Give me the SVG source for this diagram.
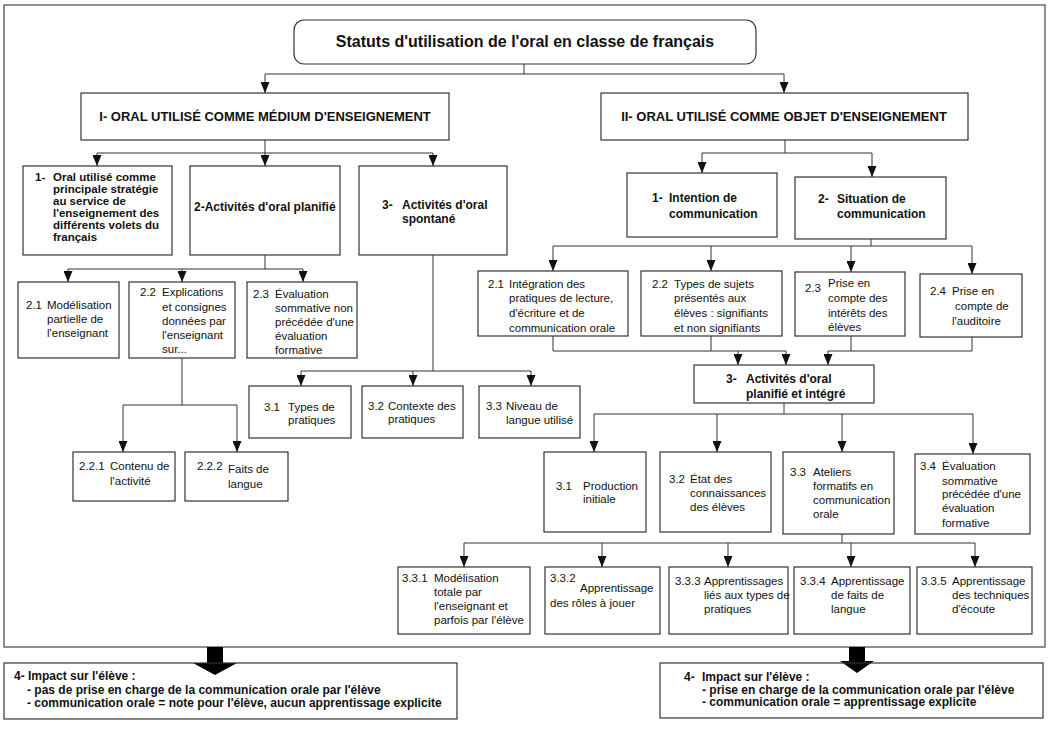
<svg xmlns="http://www.w3.org/2000/svg" width="1051" height="731" viewBox="0 0 1051 731">
<defs>
<style>
.bx{fill:#fff;stroke:#333;stroke-width:1.2}
.fr{fill:none;stroke:#444;stroke-width:1.2}
.cn{fill:none;stroke:#333;stroke-width:1}
text{font-family:"Liberation Sans",Arial,sans-serif;font-size:11.5px;fill:#111}
.b{font-weight:bold;font-size:12px}
.s{font-weight:bold;font-size:11.5px}
.h{font-weight:bold;font-size:13px}
.ti{font-weight:bold;font-size:16px}
</style>
<marker id="ar" markerUnits="userSpaceOnUse" markerWidth="9" markerHeight="11" refX="4.5" refY="11" orient="0">
<path d="M0,0 L9,0 L4.5,11 z" fill="#111"/>
</marker>
</defs>
<rect x="0" y="0" width="1051" height="731" fill="#fff"/>
<rect class="fr" x="4" y="5" width="1041" height="642"/>

<g id="connectors">
<path class="cn" d="M524,64 V74 H265 V93" marker-end="url(#ar)"/>
<path class="cn" d="M524,74 H784 V93" marker-end="url(#ar)"/>
<path class="cn" d="M265,140 V153 H97 V166" marker-end="url(#ar)"/>
<path class="cn" d="M265,153 V166" marker-end="url(#ar)"/>
<path class="cn" d="M265,153 H433 V166" marker-end="url(#ar)"/>
<path class="cn" d="M265,255 V269 H68 V282" marker-end="url(#ar)"/>
<path class="cn" d="M265,269 H303 V282" marker-end="url(#ar)"/>
<path class="cn" d="M182,269 V282" marker-end="url(#ar)"/>
<path class="cn" d="M182,358 V405 H123 V452" marker-end="url(#ar)"/>
<path class="cn" d="M182,405 H237 V452" marker-end="url(#ar)"/>
<path class="cn" d="M433,255 V371 H301 V386" marker-end="url(#ar)"/>
<path class="cn" d="M433,371 H531 V386" marker-end="url(#ar)"/>
<path class="cn" d="M413,371 V386" marker-end="url(#ar)"/>
<path class="cn" d="M785,140 V153 H702 V173" marker-end="url(#ar)"/>
<path class="cn" d="M785,153 H872 V177" marker-end="url(#ar)"/>
<path class="cn" d="M871,239 V246 H553 V271" marker-end="url(#ar)"/>
<path class="cn" d="M871,246 H972 V274" marker-end="url(#ar)"/>
<path class="cn" d="M711,246 V271" marker-end="url(#ar)"/>
<path class="cn" d="M851,246 V272" marker-end="url(#ar)"/>
<path class="cn" d="M553,336 V351 H786 V365" marker-end="url(#ar)"/>
<path class="cn" d="M711,336 V351"/>
<path class="cn" d="M738,351 V365" marker-end="url(#ar)"/>
<path class="cn" d="M972,337 V351 H828 V365" marker-end="url(#ar)"/>
<path class="cn" d="M851,336 V351"/>
<path class="cn" d="M784,403 V414 H594 V452" marker-end="url(#ar)"/>
<path class="cn" d="M784,414 H973 V454" marker-end="url(#ar)"/>
<path class="cn" d="M717,414 V452" marker-end="url(#ar)"/>
<path class="cn" d="M842,414 V452" marker-end="url(#ar)"/>
<path class="cn" d="M842,534 V543 H464 V567" marker-end="url(#ar)"/>
<path class="cn" d="M842,543 H975 V567" marker-end="url(#ar)"/>
<path class="cn" d="M602,543 V567" marker-end="url(#ar)"/>
<path class="cn" d="M728,543 V567" marker-end="url(#ar)"/>
<path class="cn" d="M851,543 V567" marker-end="url(#ar)"/>
<polygon points="207,647 223,647 223,663 237,663 215,675 193,663 207,663" fill="#000"/>
<polygon points="849,647 865,647 865,661 874,661 857,673 840,661 849,661" fill="#000"/>
</g>

<g id="title">
<rect class="bx" x="294" y="20" width="462" height="44" rx="10"/>
<text class="ti" x="525" y="47" text-anchor="middle">Statuts d'utilisation de l'oral en classe de français</text>
</g>

<g id="medium">
<rect class="bx" x="81" y="93" width="368" height="47"/>
<text class="h" x="265" y="121" text-anchor="middle">I- ORAL UTILISÉ COMME MÉDIUM D'ENSEIGNEMENT</text>
</g>
<g id="objet">
<rect class="bx" x="601" y="93" width="367" height="47"/>
<text class="h" x="784" y="121" text-anchor="middle">II- ORAL UTILISÉ COMME OBJET D'ENSEIGNEMENT</text>
</g>

<g id="L1">
<rect class="bx" x="23" y="166" width="149" height="89"/>
<text class="s" x="35" y="181">1-</text>
<text class="s" x="53" y="181">Oral utilisé comme</text>
<text class="s" x="53" y="193">principale stratégie</text>
<text class="s" x="53" y="205">au service de</text>
<text class="s" x="53" y="217">l'enseignement des</text>
<text class="s" x="53" y="229">différents volets du</text>
<text class="s" x="53" y="241">français</text>
</g>
<g id="L2">
<rect class="bx" x="190" y="166" width="150" height="89"/>
<text class="b" x="194" y="211">2-Activités d'oral planifié</text>
</g>
<g id="L3">
<rect class="bx" x="359" y="166" width="148" height="89"/>
<text class="b" x="382" y="209">3-</text>
<text class="b" x="402" y="209">Activités d'oral</text>
<text class="b" x="402" y="223">spontané</text>
</g>

<g id="L21">
<rect class="bx" x="18" y="282" width="101" height="76"/>
<text x="26" y="309">2.1</text>
<text x="47" y="309">Modélisation</text>
<text x="47" y="323">partielle de</text>
<text x="47" y="337">l'enseignant</text>
</g>
<g id="L22">
<rect class="bx" x="129" y="282" width="106" height="76"/>
<text x="140" y="296">2.2</text>
<text x="162" y="296">Explications</text>
<text x="162" y="311">et consignes</text>
<text x="162" y="325">données par</text>
<text x="162" y="339">l'enseignant</text>
<text x="162" y="353">sur...</text>
</g>
<g id="L23">
<rect class="bx" x="247" y="282" width="110" height="76"/>
<text x="253" y="298">2.3</text>
<text x="275" y="298">Évaluation</text>
<text x="275" y="312">sommative non</text>
<text x="275" y="326">précédée d'une</text>
<text x="275" y="340">évaluation</text>
<text x="275" y="354">formative</text>
</g>
<g id="L221">
<rect class="bx" x="73" y="452" width="102" height="49"/>
<text x="79" y="470">2.2.1</text>
<text x="110" y="470">Contenu de</text>
<text x="110" y="485">l'activité</text>
</g>
<g id="L222">
<rect class="bx" x="185" y="452" width="103" height="49"/>
<text x="197" y="470">2.2.2</text>
<text x="228" y="473">Faits de</text>
<text x="228" y="488">langue</text>
</g>
<g id="L31">
<rect class="bx" x="249" y="386" width="102" height="52"/>
<text x="264" y="411">3.1</text>
<text x="288" y="411">Types de</text>
<text x="288" y="424">pratiques</text>
</g>
<g id="L32">
<rect class="bx" x="362" y="386" width="101" height="52"/>
<text x="368" y="410">3.2</text>
<text x="388" y="410">Contexte des</text>
<text x="388" y="423">pratiques</text>
</g>
<g id="L33">
<rect class="bx" x="479" y="386" width="101" height="52"/>
<text x="486" y="410">3.3</text>
<text x="506" y="410">Niveau de</text>
<text x="506" y="424">langue utilisé</text>
</g>

<g id="R1">
<rect class="bx" x="627" y="173" width="150" height="64"/>
<text class="b" x="652" y="202">1-</text>
<text class="b" x="669" y="202">Intention de</text>
<text class="b" x="669" y="218">communication</text>
</g>
<g id="R2">
<rect class="bx" x="795" y="177" width="151" height="62"/>
<text class="b" x="818" y="203">2-</text>
<text class="b" x="837" y="203">Situation de</text>
<text class="b" x="837" y="218">communication</text>
</g>
<g id="R21">
<rect class="bx" x="478" y="271" width="150" height="65"/>
<text x="488" y="288">2.1</text>
<text x="509" y="288">Intégration des</text>
<text x="509" y="302">pratiques de lecture,</text>
<text x="509" y="317">d'écriture et de</text>
<text x="509" y="332">communication orale</text>
</g>
<g id="R22">
<rect class="bx" x="641" y="271" width="141" height="65"/>
<text x="652" y="288">2.2</text>
<text x="674" y="288">Types de sujets</text>
<text x="674" y="302">présentés aux</text>
<text x="674" y="317">élèves : signifiants</text>
<text x="674" y="332">et non signifiants</text>
</g>
<g id="R23">
<rect class="bx" x="795" y="272" width="110" height="64"/>
<text x="805" y="292">2.3</text>
<text x="828" y="287">Prise en</text>
<text x="828" y="302">compte des</text>
<text x="828" y="317">intérêts des</text>
<text x="828" y="331">élèves</text>
</g>
<g id="R24">
<rect class="bx" x="920" y="274" width="102" height="63"/>
<text x="930" y="295">2.4</text>
<text x="952" y="295">Prise en</text>
<text x="955" y="310">compte de</text>
<text x="952" y="325">l'auditoire</text>
</g>
<g id="R3">
<rect class="bx" x="694" y="365" width="180" height="38"/>
<text class="b" x="726" y="383">3-</text>
<text class="b" x="746" y="383">Activités d'oral</text>
<text class="b" x="746" y="398">planifié et intégré</text>
</g>
<g id="R31">
<rect class="bx" x="544" y="452" width="102" height="80"/>
<text x="556" y="490">3.1</text>
<text x="583" y="490">Production</text>
<text x="583" y="503">initiale</text>
</g>
<g id="R32">
<rect class="bx" x="660" y="452" width="111" height="80"/>
<text x="669" y="483">3.2</text>
<text x="690" y="483">État des</text>
<text x="690" y="497">connaissances</text>
<text x="690" y="511">des élèves</text>
</g>
<g id="R33">
<rect class="bx" x="783" y="452" width="111" height="82"/>
<text x="790" y="476">3.3</text>
<text x="813" y="476">Ateliers</text>
<text x="813" y="490">formatifs en</text>
<text x="813" y="504">communication</text>
<text x="813" y="518">orale</text>
</g>
<g id="R34">
<rect class="bx" x="915" y="454" width="115" height="80"/>
<text x="920" y="470">3.4</text>
<text x="942" y="470">Évaluation</text>
<text x="942" y="485">sommative</text>
<text x="942" y="498">précédée d'une</text>
<text x="942" y="512">évaluation</text>
<text x="942" y="527">formative</text>
</g>
<g id="R331">
<rect class="bx" x="398" y="567" width="132" height="67"/>
<text x="402" y="582">3.3.1</text>
<text x="434" y="582">Modélisation</text>
<text x="434" y="596">totale par</text>
<text x="434" y="610">l'enseignant et</text>
<text x="434" y="624">parfois par l'élève</text>
</g>
<g id="R332">
<rect class="bx" x="545" y="567" width="115" height="67"/>
<text x="550" y="582">3.3.2</text>
<text x="580" y="592">Apprentissage</text>
<text x="550" y="607">des rôles à jouer</text>
</g>
<g id="R333">
<rect class="bx" x="669" y="567" width="119" height="67"/>
<text x="675" y="585">3.3.3</text>
<text x="704" y="585">Apprentissages</text>
<text x="704" y="599">liés aux types de</text>
<text x="704" y="613">pratiques</text>
</g>
<g id="R334">
<rect class="bx" x="794" y="567" width="116" height="67"/>
<text x="800" y="585">3.3.4</text>
<text x="831" y="585">Apprentissage</text>
<text x="831" y="599">de faits de</text>
<text x="831" y="613">langue</text>
</g>
<g id="R335">
<rect class="bx" x="917" y="567" width="115" height="67"/>
<text x="921" y="585">3.3.5</text>
<text x="952" y="585">Apprentissage</text>
<text x="952" y="599">des techniques</text>
<text x="952" y="613">d'écoute</text>
</g>

<g id="impact-left">
<rect class="bx" x="4" y="663" width="453" height="56" fill-opacity="0"/>
<text class="b" x="14" y="680">4- Impact sur l'élève :</text>
<text class="b" x="27" y="694">- pas de prise en charge de la communication orale par l'élève</text>
<text class="b" x="27" y="707">- communication orale = note pour l'élève, aucun apprentissage explicite</text>
</g>
<g id="impact-right">
<rect class="bx" x="660" y="663" width="383" height="55" fill-opacity="0"/>
<text class="b" x="684" y="681">4-</text>
<text class="b" x="702" y="681">Impact sur l'élève :</text>
<text class="b" x="702" y="694">- prise en charge de la communication orale par l'élève</text>
<text class="b" x="702" y="706">- communication orale = apprentissage explicite</text>
</g>
</svg>
